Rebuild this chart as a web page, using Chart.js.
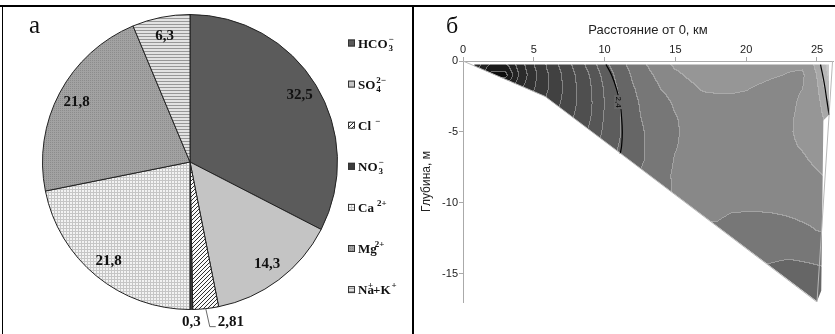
<!DOCTYPE html>
<html>
<head>
<meta charset="utf-8">
<script src="https://cdn.jsdelivr.net/npm/chart.js@4.4.0/dist/chart.umd.min.js"></script>
<style>
  html, body { margin: 0; padding: 0; background: #fff; }
  #wrap { position: relative; width: 835px; height: 334px; overflow: hidden; }
  #pie { position: absolute; left: 0; top: 0; }
  #map { position: absolute; left: 415px; top: 0; }
  .rule { position: absolute; background: #000; }
</style>
</head>
<body>
<div id="wrap">
  <canvas id="pie" width="413" height="334"></canvas>
  <canvas id="map" width="420" height="334"></canvas>
  <div class="rule" style="left:0;top:5px;width:835px;height:2px"></div>
  <div class="rule" style="left:2px;top:5px;width:1px;height:329px"></div>
  <div class="rule" style="left:412px;top:5px;width:2px;height:329px"></div>
</div>
<script>
// ---- panel a: ion shares, % ----
const ions = ["HCO₃⁻", "SO₄²⁻", "Cl⁻", "NO₃⁻", "Ca²⁺", "Mg²⁺", "Na⁺+K⁺"];
const shares = [32.5, 14.3, 2.81, 0.3, 21.8, 21.8, 6.3];
const shareLabels = ["32,5", "14,3", "2,81", "0,3", "21,8", "21,8", "6,3"];
// legend text pieces (t = normal, sub/sup = small indices)
const legendText = [
  [{ t: "HCO" }, { sub: "3", sup: "−", dx: 1 }],
  [{ t: "SO" }, { sub: "4", sup: "2−", dx: 1 }],
  [{ t: "Cl" }, { sup: "−", dx: 4 }],
  [{ t: "NO" }, { sub: "3", sup: "−", dx: 1 }],
  [{ t: "Ca" }, { sup: "2+", dx: 3 }],
  [{ t: "Mg" }, { sup: "2+", dx: -2 }],
  [{ t: "Na" }, { sup: "+", dx: -6 }, { t: "+K" }, { sup: "+", dx: 1 }],
];

// ---- panel b: section, km / m ----
const xTicks = [0, 5, 10, 15, 20, 25];
const yTicks = [-15, -10, -5, 0];
const gridX = [0, 1, 2, 3, 4, 5, 6, 7, 8, 9, 10, 11, 12, 13, 14, 15, 16, 17, 18, 19, 20, 21, 22, 23, 24, 25, 26];
const gridDepth = [0, -1, -2, -3, -4, -5, -6, -7, -8, -10, -12, -14, -16, -18];
// contour level (band number = integer part)
const gridLevel = [
  [5.0, 3.55, 2.2, 2.2, 3.55, 5.0, 6.22, 7.34, 8.41, 9.51, 10.85, 11.7, 12.4, 13.1, 13.7, 14.3, 14.5, 14.6, 14.6, 14.6, 14.6, 14.5, 14.4, 14.25, 14.3, 15.3, 18.0],
  [4.68, 3.09, 0.6, 0.6, 3.09, 4.68, 5.92, 7.0, 8.06, 9.05, 10.3, 11.32, 12.1, 12.75, 13.3, 13.8, 14.15, 14.35, 14.4, 14.4, 14.35, 14.25, 14.1, 13.95, 13.85, 15.0, 17.5],
  [4.91, 3.75, 2.55, 2.55, 3.75, 4.91, 5.96, 6.93, 7.92, 8.86, 10.05, 11.06, 11.9, 12.45, 13.0, 13.3, 13.75, 14.1, 14.15, 14.15, 14.05, 13.85, 13.65, 13.6, 14.0, 14.7, 17.0],
  [5.4, 4.65, 4.17, 4.17, 4.65, 5.4, 6.23, 7.08, 7.95, 8.83, 9.98, 10.89, 11.75, 12.3, 12.7, 13.1, 13.4, 13.6, 13.7, 13.7, 13.65, 13.55, 13.5, 13.6, 14.3, 14.6, 16.0],
  [6.02, 5.47, 5.18, 5.18, 5.47, 6.02, 6.64, 7.36, 8.14, 8.93, 10.04, 10.84, 11.7, 12.2, 12.55, 12.95, 13.2, 13.4, 13.5, 13.55, 13.55, 13.5, 13.5, 13.8, 14.3, 14.55, 15.5],
  [8.0, 7.5, 7.0, 6.5, 6.5, 6.9, 7.2, 7.74, 8.41, 9.18, 10.17, 10.88, 11.5, 12.1, 12.5, 12.92, 13.15, 13.35, 13.45, 13.5, 13.5, 13.5, 13.55, 13.85, 14.3, 14.5, 15.0],
  [9.0, 8.5, 8.0, 7.5, 7.5, 7.8, 8.0, 8.3, 8.6, 9.6, 10.36, 11.0, 11.5, 12.1, 12.5, 12.95, 13.2, 13.35, 13.45, 13.5, 13.5, 13.5, 13.6, 13.8, 14.1, 14.45, 14.8],
  [10.0, 9.5, 9.0, 8.5, 8.5, 8.7, 9.0, 9.3, 9.6, 10.0, 10.58, 11.15, 11.5, 12.1, 12.6, 13.05, 13.25, 13.35, 13.4, 13.45, 13.45, 13.45, 13.55, 13.65, 13.85, 14.2, 14.5],
  [11.0, 10.5, 10.0, 9.5, 9.5, 9.7, 10.0, 10.3, 10.6, 10.9, 11.2, 11.5, 11.8, 12.3, 12.75, 13.1, 13.25, 13.35, 13.4, 13.4, 13.4, 13.4, 13.4, 13.45, 13.6, 13.9, 14.2],
  [12, 12, 12, 12, 12, 12, 12, 12, 12, 12, 12.2, 12.4, 12.6, 12.7, 12.8, 13.05, 13.2, 13.25, 13.3, 13.2, 13.2, 13.2, 13.25, 13.3, 13.35, 13.35, 13.4],
  [12.9, 12.9, 12.9, 12.9, 12.9, 12.9, 12.9, 12.9, 12.9, 12.9, 12.9, 12.9, 12.9, 12.9, 12.9, 12.9, 12.9, 12.9, 12.85, 12.65, 12.6, 12.6, 12.6, 12.7, 12.85, 13.0, 13.1],
  [12.3, 12.3, 12.3, 12.3, 12.3, 12.3, 12.3, 12.3, 12.3, 12.3, 12.3, 12.3, 12.3, 12.3, 12.3, 12.3, 12.3, 12.3, 12.3, 12.3, 12.2, 12.1, 12.05, 12.0, 12.05, 12.1, 12.15],
  [11.7, 11.7, 11.7, 11.7, 11.7, 11.7, 11.7, 11.7, 11.7, 11.7, 11.7, 11.7, 11.7, 11.7, 11.7, 11.7, 11.7, 11.7, 11.7, 11.7, 11.7, 11.7, 11.6, 11.5, 11.5, 11.6, 11.7],
  [11.2, 11.2, 11.2, 11.2, 11.2, 11.2, 11.2, 11.2, 11.2, 11.2, 11.2, 11.2, 11.2, 11.2, 11.2, 11.2, 11.2, 11.2, 11.2, 11.2, 11.2, 11.2, 11.2, 11.2, 11.2, 11.2, 11.2],
];
const bandGray = [13, 26, 35, 43, 50, 58, 65, 72, 79, 86, 93, 102, 119, 136, 150, 168, 184, 200, 212, 222];
// filled part of the section
const fillX = [0.8, 25.85, 25.85, 25.45, 25.3, 25.0, 5.8, 0.8];
const fillY = [-0.25, -0.25, -3.8, -4.2, -16.2, -16.95, -2.5, -0.35];
// section outline
const outlineX = [0, 5.8, 25, 26.1];
const outlineY = [0, -2.5, -17, 0];
// labelled isoline 2,4
const iso24X = [10.1, 10.5, 10.85, 11.1, 11.2, 11.25, 11.2, 11.1];
const iso24Y = [-0.25, -1.0, -2.0, -3.0, -4.0, -5.0, -6.0, -6.55];
const iso24Label = { x: 10.95, y: -2.9, text: "2,4" };
// short black isoline at the right edge
const edgeX = [25.25, 25.5, 25.7, 25.85];
const edgeY = [-0.25, -1.5, -2.8, -3.8];

const pts = (xs, ys) => xs.map((v, i) => ({ x: v, y: ys[i] }));

function pattern(size, paint) {
  const c = document.createElement("canvas");
  c.width = c.height = size;
  const g = c.getContext("2d");
  paint(g, size);
  return g.createPattern(c, "repeat");
}

const fills = [
  "#5b5b5b",
  "#c4c4c4",
  pattern(4, (g, s) => {
    g.fillStyle = "#fafafa"; g.fillRect(0, 0, s, s);
    g.fillStyle = "#2e2e2e";
    for (let i = 0; i < s; i++) g.fillRect(i, s - 1 - i, 1, 1);
  }),
  "#3c3c3c",
  pattern(3, (g, s) => {
    g.fillStyle = "#f3f3f3"; g.fillRect(0, 0, s, s);
    g.fillStyle = "#c6c6c6"; g.fillRect(0, 0, s, 1); g.fillRect(0, 0, 1, s);
  }),
  pattern(2, (g, s) => {
    g.fillStyle = "#a2a2a2"; g.fillRect(0, 0, s, s);
    g.fillStyle = "#8c8c8c"; g.fillRect(0, 0, 1, 1);
  }),
  pattern(3, (g, s) => {
    g.fillStyle = "#e2e2e2"; g.fillRect(0, 0, s, s);
    g.fillStyle = "#979797"; g.fillRect(0, 0, s, 1);
  }),
];

const serif = '"Liberation Serif", "Times New Roman", serif';
const sans = '"Liberation Sans", Arial, sans-serif';

function drawRich(ctx, parts, x, y) {
  parts.forEach(p => {
    if (p.t) {
      ctx.font = "bold 13px " + serif;
      ctx.fillText(p.t, x, y);
      x += ctx.measureText(p.t).width;
    } else {
      x += p.dx || 0;
      ctx.font = "bold 9px " + serif;
      let w = 0;
      if (p.sub) { ctx.fillText(p.sub, x, y + 3); w = Math.max(w, ctx.measureText(p.sub).width); }
      if (p.sup) { ctx.fillText(p.sup, x, y - 6); w = Math.max(w, ctx.measureText(p.sup).width); }
      x += w;
    }
  });
}

const pieLabels = {
  id: "pieLabels",
  afterDatasetsDraw(chart) {
    const ctx = chart.ctx;
    const arcs = chart.getDatasetMeta(0).data;
    ctx.save();
    ctx.font = "bold 15px " + serif;
    ctx.fillStyle = "#111";
    ctx.textBaseline = "middle";
    arcs.forEach((arc, i) => {
      const p = arc.getProps(["x", "y", "startAngle", "endAngle", "outerRadius"], true);
      const mid = (p.startAngle + p.endAngle) / 2;
      const ex = p.x + Math.cos(mid) * p.outerRadius;
      const ey = p.y + Math.sin(mid) * p.outerRadius;
      if (shares[i] > 5) {
        ctx.textAlign = "center";
        ctx.fillText(shareLabels[i], p.x + Math.cos(mid) * p.outerRadius * 0.87, p.y + Math.sin(mid) * p.outerRadius * 0.87);
      } else if (shares[i] < 1) {
        ctx.textAlign = "center";
        ctx.fillText(shareLabels[i], ex, ey + 13);
      } else {
        ctx.strokeStyle = "#444";
        ctx.lineWidth = 0.8;
        ctx.beginPath();
        ctx.moveTo(ex, ey);
        ctx.lineTo(ex + 4, ey + 18);
        ctx.lineTo(ex + 10, ey + 18);
        ctx.stroke();
        ctx.textAlign = "left";
        ctx.fillText(shareLabels[i], ex + 12, ey + 13);
      }
    });
    ctx.restore();
  },
};

const pieLegend = {
  id: "pieLegend",
  afterDraw(chart) {
    const ctx = chart.ctx;
    ctx.save();
    ctx.fillStyle = "#111";
    ctx.textAlign = "left";
    ctx.textBaseline = "alphabetic";
    ctx.font = "25px " + serif;
    ctx.fillText("а", 29, 33);
    legendText.forEach((parts, i) => {
      const cy = 43 + i * 41.1;
      ctx.fillStyle = fills[i];
      ctx.fillRect(348, cy - 3.5, 7, 7);
      ctx.strokeStyle = "#333";
      ctx.lineWidth = 1;
      ctx.strokeRect(348.5, cy - 3, 6, 6);
      ctx.fillStyle = "#111";
      drawRich(ctx, parts, 358, cy + 4.5);
    });
    ctx.restore();
  },
};

new Chart(document.getElementById("pie"), {
  type: "pie",
  data: {
    labels: ions,
    datasets: [{
      data: shares,
      backgroundColor: fills,
      borderColor: "#222",
      borderWidth: 1,
      hoverOffset: 0,
    }],
  },
  options: {
    responsive: false,
    animation: false,
    layout: { padding: { left: 42, top: 14, right: 75, bottom: 24 } },
    plugins: { legend: { display: false }, tooltip: { enabled: false } },
  },
  plugins: [pieLabels, pieLegend],
});

// level at a point of the section (bilinear between grid nodes)
function levelAt(x, d) {
  x = Math.min(Math.max(x, gridX[0]), gridX[gridX.length - 1]);
  d = Math.min(Math.max(d, gridDepth[gridDepth.length - 1]), gridDepth[0]);
  let c = 0;
  while (c < gridX.length - 2 && x > gridX[c + 1]) c++;
  let r = 0;
  while (r < gridDepth.length - 2 && d < gridDepth[r + 1]) r++;
  const tx = (x - gridX[c]) / (gridX[c + 1] - gridX[c]);
  const ty = (d - gridDepth[r]) / (gridDepth[r + 1] - gridDepth[r]);
  const a = gridLevel[r][c], b = gridLevel[r][c + 1];
  const e = gridLevel[r + 1][c], f = gridLevel[r + 1][c + 1];
  return (a * (1 - tx) + b * tx) * (1 - ty) + (e * (1 - tx) + f * tx) * ty;
}

const contourFill = {
  id: "contourFill",
  beforeDatasetsDraw(chart) {
    const { ctx, chartArea: a, scales } = chart;
    const sx = scales.x, sy = scales.y;
    const w = Math.round(a.right - a.left), h = Math.round(a.bottom - a.top);
    const band = new Int16Array(w * h);
    for (let j = 0; j < h; j++) {
      const d = sy.getValueForPixel(a.top + j + 0.5);
      for (let i = 0; i < w; i++) {
        const x = sx.getValueForPixel(a.left + i + 0.5);
        band[j * w + i] = Math.max(0, Math.min(bandGray.length - 1, Math.floor(levelAt(x, d))));
      }
    }
    const off = document.createElement("canvas");
    off.width = w; off.height = h;
    const octx = off.getContext("2d");
    const img = octx.createImageData(w, h);
    for (let j = 0; j < h; j++) {
      for (let i = 0; i < w; i++) {
        const k = j * w + i;
        const b = band[k];
        let g = bandGray[b];
        const br = i < w - 1 ? band[k + 1] : b;
        const bd = j < h - 1 ? band[k + w] : b;
        if (br !== b || bd !== b) {
          const top = Math.max(b, br, bd);
          g = Math.round(0.5 * bandGray[top] + 0.5 * 190);
        }
        img.data[k * 4] = g; img.data[k * 4 + 1] = g; img.data[k * 4 + 2] = g; img.data[k * 4 + 3] = 255;
      }
    }
    octx.putImageData(img, 0, 0);
    ctx.save();
    ctx.beginPath();
    fillX.forEach((v, i) => {
      const px = sx.getPixelForValue(v), py = sy.getPixelForValue(fillY[i]);
      if (i === 0) ctx.moveTo(px, py); else ctx.lineTo(px, py);
    });
    ctx.closePath();
    ctx.clip();
    ctx.drawImage(off, a.left, a.top);
    ctx.restore();
  },
  afterDatasetsDraw(chart) {
    const { ctx, scales } = chart;
    const px = scales.x.getPixelForValue(iso24Label.x);
    const py = scales.y.getPixelForValue(iso24Label.y);
    ctx.save();
    ctx.translate(px, py);
    ctx.rotate(Math.PI / 2);
    ctx.fillStyle = "#666";
    ctx.fillRect(-7, -4, 14, 8);
    ctx.fillStyle = "#000";
    ctx.font = "8px " + sans;
    ctx.textAlign = "center";
    ctx.textBaseline = "middle";
    ctx.fillText(iso24Label.text, 0, 0);
    ctx.restore();
    ctx.save();
    ctx.fillStyle = "#111";
    ctx.font = "24px " + serif;
    ctx.textBaseline = "alphabetic";
    ctx.fillText("б", 31, 33);
    ctx.restore();
  },
};

new Chart(document.getElementById("map"), {
  type: "scatter",
  data: {
    datasets: [
      { data: pts(outlineX, outlineY), showLine: true, borderColor: "#b8b8b8", borderWidth: 1, pointRadius: 0 },
      { data: pts(iso24X, iso24Y), showLine: true, borderColor: "#000", borderWidth: 1.2, pointRadius: 0, tension: 0.4 },
      { data: pts(edgeX, edgeY), showLine: true, borderColor: "#000", borderWidth: 1.2, pointRadius: 0, tension: 0.4 },
    ],
  },
  options: {
    responsive: false,
    animation: false,
    layout: { padding: { left: 0, top: 0, right: 2, bottom: 32 } },
    scales: {
      x: {
        type: "linear",
        position: "top",
        min: 0,
        max: 26.13,
        afterFit(s) { s.height = 61; },
        afterBuildTicks(s) { s.ticks = xTicks.map(v => ({ value: v })); },
        grid: { drawOnChartArea: false, tickLength: 4, color: "#aaa" },
        border: { color: "#aaa" },
        ticks: { font: { family: sans, size: 11 }, color: "#222", padding: 0, maxRotation: 0 },
        title: { display: true, text: "Расстояние от 0, км", font: { family: sans, size: 13 }, color: "#222", padding: { top: 23, bottom: 0 } },
      },
      y: {
        type: "linear",
        min: -17,
        max: 0,
        afterFit(s) { s.width = 48; },
        afterBuildTicks(s) { s.ticks = yTicks.map(v => ({ value: v })); },
        grid: { drawOnChartArea: false, tickLength: 4, color: "#aaa" },
        border: { color: "#aaa" },
        ticks: { font: { family: sans, size: 11 }, color: "#222", padding: 1 },
        title: { display: true, text: "Глубина, м", font: { family: sans, size: 12 }, color: "#222", padding: { top: 4, bottom: 0 } },
      },
    },
    plugins: { legend: { display: false }, tooltip: { enabled: false } },
  },
  plugins: [contourFill],
});
</script>
</body>
</html>
